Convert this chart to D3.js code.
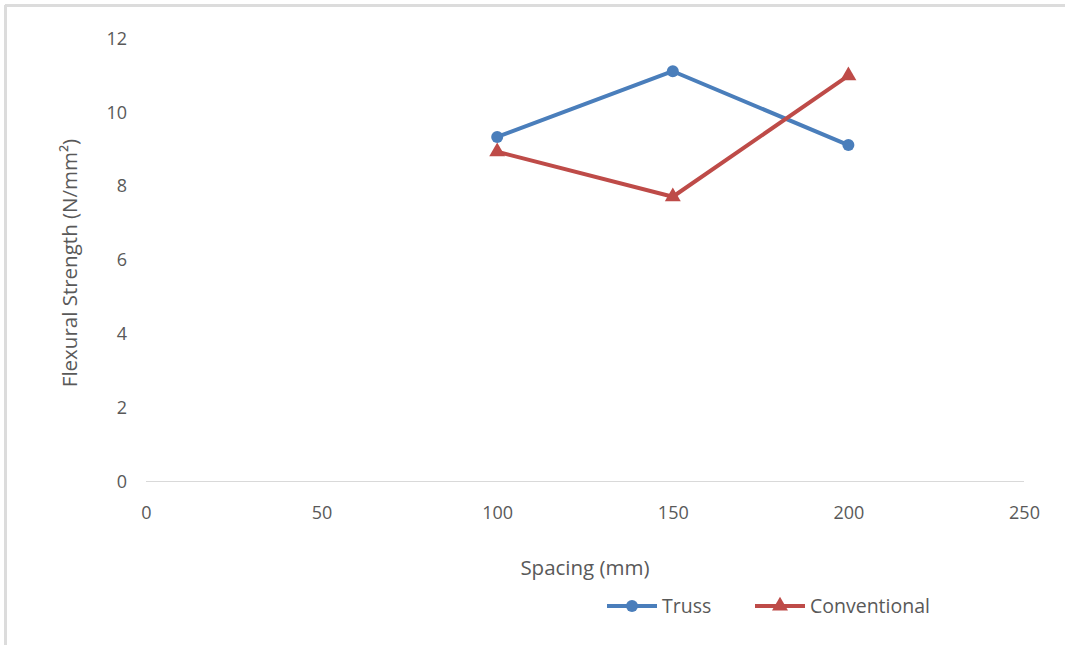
<!DOCTYPE html>
<html><head><meta charset="utf-8">
<script src="https://cdn.jsdelivr.net/npm/d3@7"></script>
<style>body{margin:0;background:#fff;} svg{display:block;}</style>
</head><body>
<svg id="c" width="1065" height="645"></svg>
<script>
const spacing = [100, 150, 200];
const truss = [9.32, 11.1, 9.1];
const conventional = [8.92, 7.7, 10.98];
const xTicks = [0, 50, 100, 150, 200, 250];
const yTicks = [0, 2, 4, 6, 8, 10, 12];
const seriesNames = ["Truss", "Conventional"];
const seriesColors = ["#4a7ebb", "#be4b48"];

const svg = d3.select("#c");
const font = "'Open Sans', Lato, sans-serif";
const textColor = "#595959";

// frame
svg.append("line").attr("x1",5).attr("x2",1065).attr("y1",5.5).attr("y2",5.5).attr("stroke","#dcdcdc").attr("stroke-width",3);
svg.append("line").attr("x1",5.5).attr("x2",5.5).attr("y1",5).attr("y2",645).attr("stroke","#dcdcdc").attr("stroke-width",3);

const x = d3.scaleLinear().domain([0,250]).range([146,1024]);
const y = d3.scaleLinear().domain([0,12]).range([481,38]);

// x axis line
svg.append("line").attr("x1",x(0)).attr("x2",x(250)).attr("y1",y(0)+0.5).attr("y2",y(0)+0.5).attr("stroke","#d9d9d9").attr("stroke-width",1);

// y tick labels
const yAxis = svg.append("g").attr("transform",`translate(127,0)`)
  .call(d3.axisLeft(y).tickValues(yTicks).tickSize(0).tickPadding(0).tickFormat(d3.format("d")));
yAxis.select(".domain").remove();
yAxis.selectAll("text").attr("font-family",font).attr("font-size",18).attr("fill",textColor).attr("dy","0.35em");

// x tick labels
const xAxis = svg.append("g").attr("transform",`translate(0,506)`)
  .call(d3.axisBottom(x).tickValues(xTicks).tickSize(0).tickPadding(0).tickFormat(d3.format("d")));
xAxis.select(".domain").remove();
xAxis.selectAll("text").attr("font-family",font).attr("font-size",18).attr("fill",textColor);

// axis titles
svg.append("text").attr("x",585).attr("y",575).attr("text-anchor","middle")
  .attr("font-family",font).attr("font-size",20.5).attr("fill",textColor).text("Spacing (mm)");
svg.append("text").attr("transform","translate(77,263) rotate(-90)").attr("text-anchor","middle")
  .attr("font-family",font).attr("font-size",20.5).attr("fill",textColor).text("Flexural Strength (N/mm²)");

const line = d3.line().x(d=>x(d[0])).y(d=>y(d[1]));
const tri = d3.symbol().type(d3.symbolTriangle).size(110);

[truss, conventional].forEach((vals,i)=>{
  const pts = spacing.map((s,j)=>[s, vals[j]]);
  svg.append("path").datum(pts).attr("d",line).attr("fill","none")
    .attr("stroke",seriesColors[i]).attr("stroke-width",4).attr("stroke-linejoin","round");
  const g = svg.append("g");
  pts.forEach(p=>{
    if(i===0){
      g.append("circle").attr("cx",x(p[0])).attr("cy",y(p[1])).attr("r",6).attr("fill",seriesColors[i]);
    } else {
      g.append("path").attr("d",tri).attr("transform",`translate(${x(p[0])},${y(p[1])})`).attr("fill",seriesColors[i]);
    }
  });
});

// legend
const legX = [607, 755];
seriesNames.forEach((n,i)=>{
  const lx = legX[i], ly = 606;
  svg.append("line").attr("x1",lx).attr("x2",lx+50).attr("y1",ly).attr("y2",ly).attr("stroke",seriesColors[i]).attr("stroke-width",4);
  if(i===0) svg.append("circle").attr("cx",lx+25).attr("cy",ly).attr("r",6).attr("fill",seriesColors[i]);
  else svg.append("path").attr("d",tri).attr("transform",`translate(${lx+25},${ly})`).attr("fill",seriesColors[i]);
  svg.append("text").attr("x",lx+55).attr("y",ly).attr("dy","0.35em").attr("font-family",font).attr("font-size",19.5)
    .attr("fill",textColor).text(n);
});
</script>
</body></html>
